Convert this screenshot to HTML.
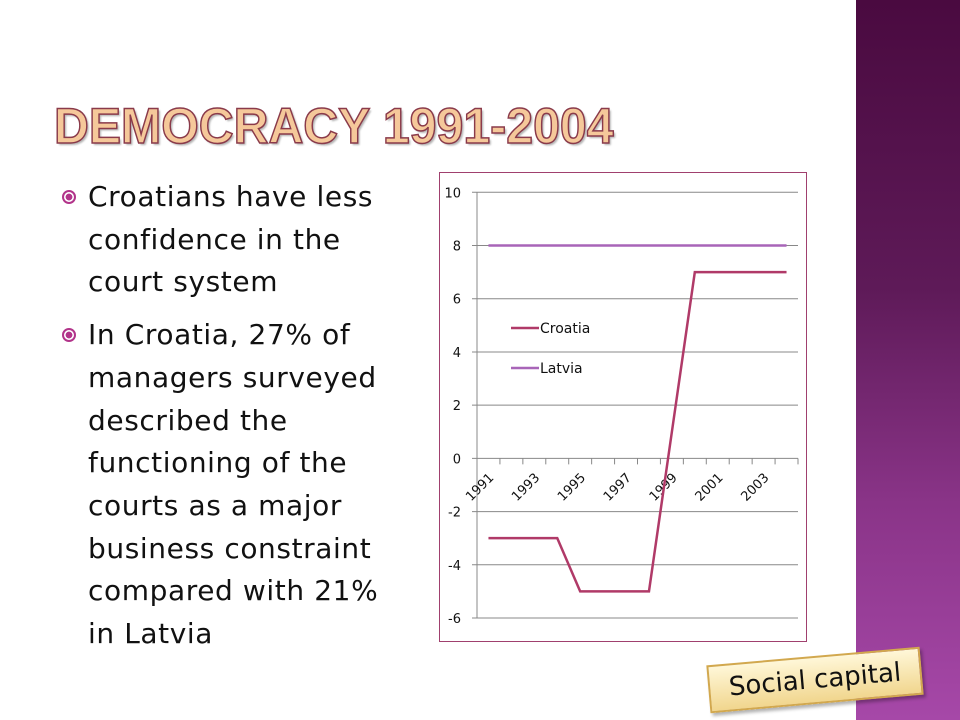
<!DOCTYPE html>
<html><head><meta charset="utf-8">
<style>
body{margin:0;width:960px;height:720px;overflow:hidden;background:#fff;font-family:"Liberation Sans","DejaVu Sans",sans-serif;position:relative}
#sidebar{position:absolute;left:856px;top:0;width:104px;height:720px;background:linear-gradient(#4a0a40,#5e1a58 40%,#8a3488 70%,#a648a8)}
#title{position:absolute;left:54px;top:97px;font-size:50px;font-weight:bold;color:#f5c89a;-webkit-text-stroke:1.5px #8a3a4a;text-shadow:2px 2px 2px rgba(0,0,0,.3);white-space:nowrap;transform:scaleX(0.965);transform-origin:left top}
#bullets{position:absolute;left:60px;top:176px;width:380px;font-family:"DejaVu Sans",sans-serif;font-size:28px;letter-spacing:0.6px;line-height:42.7px;color:#111;margin:0;padding:0;list-style:none;white-space:nowrap}
#bullets li{position:relative;padding-left:28px;margin-bottom:10px}
#bullets li::before{content:"";position:absolute;left:2px;top:14px;width:10px;height:10px;border:2px solid #b2348a;border-radius:50%;background:radial-gradient(#b2348a 45%,#fff 50%)}
#chart{position:absolute;left:439px;top:172px;width:368px;height:470px;border:1.5px solid #a0406e;box-sizing:border-box}
#tag{position:absolute;left:708px;top:656px;width:210px;height:44px;background:linear-gradient(#fff7d8,#f1d68e);border:2px solid #d2a84e;transform:rotate(-5deg);font-family:"DejaVu Sans",sans-serif;font-size:26px;text-align:center;line-height:44px;color:#111;box-shadow:2px 3px 3px rgba(0,0,0,.3)}
svg text{font-family:"DejaVu Sans",sans-serif}
</style></head><body>
<div id="sidebar"></div>
<div id="title">DEMOCRACY 1991-2004</div>
<ul id="bullets">
<li>Croatians have less<br>confidence in the<br>court system</li>
<li>In Croatia, 27% of<br>managers surveyed<br>described the<br>functioning of the<br>courts as a major<br>business constraint<br>compared with 21%<br>in Latvia</li>
</ul>
<div id="chart"></div>
<svg id="svg" width="960" height="720" style="position:absolute;left:0;top:0"></svg>
<div id="tag">Social capital</div>
<script>
const years=["1991","1992","1993","1994","1995","1996","1997","1998","1999","2000","2001","2002","2003","2004"];
const croatia=[-3,-3,-3,-3,-5,-5,-5,-5,1,7,7,7,7,7];
const latvia=[8,8,8,8,8,8,8,8,8,8,8,8,8,8];
const yTicks=[10,8,6,4,2,0,-2,-4,-6];
const NS="http://www.w3.org/2000/svg";
const svg=document.getElementById('svg');
const X0=477,X1=798,Y10=192.3,Y6=618;
const cw=(X1-X0)/years.length;
const xs=i=>X0+cw*(i+0.5);
const ys=v=>Y10+(10-v)*(Y6-Y10)/16;
function mk(t,a){const e=document.createElementNS(NS,t);for(const k in a)e.setAttribute(k,a[k]);svg.appendChild(e);return e;}
yTicks.forEach(v=>{
const g=mk('line',{x1:X0-5,x2:X1,y1:ys(v),y2:ys(v),stroke:'#888','stroke-width':1});


const t=mk('text',{x:X0-16,y:ys(v)+5,'text-anchor':'end','font-size':13,fill:'#111'});
t.textContent=v;


});
const ax=mk('line',{x1:X0,x2:X0,y1:Y10,y2:Y6,stroke:'#888'});


for(let i=0;i<=years.length;i++){
const tk=mk('line',{x1:X0+cw*i,x2:X0+cw*i,y1:ys(0),y2:ys(0)+6,stroke:'#888'});


}
years.forEach((y,i)=>{if(i%2)return;
const x=xs(i)+6,yy=ys(0)+20;
const t=mk('text',{x:x,y:yy,'text-anchor':'end','font-size':13,fill:'#111',transform:`rotate(-45 ${x} ${yy})`});
t.textContent=y;


});
function series(arr,col,name){
const p=mk('polyline',{points:arr.map((v,i)=>xs(i)+','+ys(v)).join(' '),fill:'none',stroke:col,'stroke-width':2.5});


}
series(latvia,'#a865b8','latvia-line');
series(croatia,'#b03a68','croatia-line');
[['Croatia','#b03a68',328],['Latvia','#a865b8',368]].forEach(([n,c,y])=>{
const l=mk('line',{x1:511,x2:539,y1:y,y2:y,stroke:c,'stroke-width':2.5});


const t=mk('text',{x:540,y:y+5,'font-size':14,fill:'#111'});
t.textContent=n;


});
</script>
</body></html>
